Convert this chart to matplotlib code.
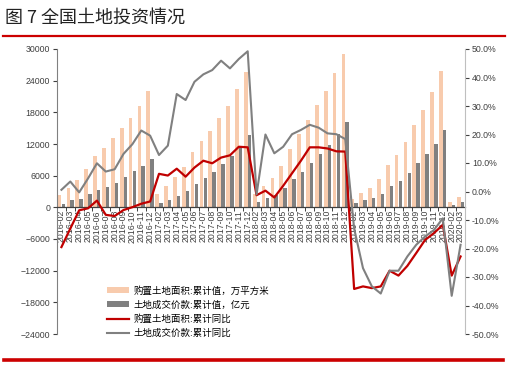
import numpy as np
import matplotlib.pyplot as plt
from matplotlib.lines import Line2D
from matplotlib.patches import Patch

plt.rcParams['font.family'] = ['Liberation Sans', 'Noto Sans CJK SC', 'DejaVu Sans']

# colours
AREA_BAR_COLOR = '#F8CBAD'
PRICE_BAR_COLOR = '#808080'
AREA_LINE_COLOR = '#C00000'
PRICE_LINE_COLOR = '#808080'
RULE_COLOR = '#CC0000'
TEXT_COLOR = '#404040'

# month labels (cumulative data, Jan-Feb combined)
months = [
    '2016-02', '2016-03', '2016-04', '2016-05', '2016-06', '2016-07', '2016-08',
    '2016-09', '2016-10', '2016-11', '2016-12',
    '2017-02', '2017-03', '2017-04', '2017-05', '2017-06', '2017-07', '2017-08',
    '2017-09', '2017-10', '2017-11', '2017-12',
    '2018-02', '2018-03', '2018-04', '2018-05', '2018-06', '2018-07', '2018-08',
    '2018-09', '2018-10', '2018-11', '2018-12',
    '2019-02', '2019-03', '2019-04', '2019-05', '2019-06', '2019-07', '2019-08',
    '2019-09', '2019-10', '2019-11', '2019-12',
    '2020-02', '2020-03',
]

# 购置土地面积:累计值 (万平方米)
area_cum = [
    2270, 3730, 5240, 7330, 9660, 11300, 13060, 14960, 16990, 19130, 22030,
    2500, 3980, 5750, 7710, 10480, 12500, 14400, 16860, 19130, 22360, 25550,
    2500, 4040, 5490, 7890, 11110, 13830, 16540, 19450, 22100, 25520, 29140,
    1600, 2650, 3730, 5300, 8080, 9850, 12370, 15540, 18510, 21920, 25860,
    1070, 2010,
]

# 土地成交价款:累计值 (亿元)
price_cum = [
    700, 1330, 1640, 2460, 3280, 3920, 4680, 5750, 6880, 7890, 9200,
    880, 1400, 2150, 3100, 4420, 5490, 6630, 8150, 9790, 11370, 13680,
    1000, 1770, 2340, 3600, 5430, 6690, 8330, 10040, 11870, 13830, 16160,
    830, 1330, 1770, 2460, 3980, 4930, 6440, 8330, 10040, 12060, 14710,
    510, 1080,
]

# 购置土地面积:累计同比 (%)
area_yoy = [
    -19.5, -13.0, -6.6, -5.9, -3.2, -8.2, -8.6, -6.5, -5.5, -4.3, -3.5,
    6.2, 5.6, 8.0, 5.2, 8.4, 10.8, 9.9, 11.9, 12.7, 15.7, 15.5,
    -1.3, 0.3, -2.1, 2.0, 6.4, 10.8, 15.5, 15.5, 15.1, 14.1, 14.0,
    -34.2, -33.3, -33.9, -33.3, -27.8, -29.5, -26.1, -21.6, -17.0, -14.6, -11.7,
    -29.5, -22.8,
]

# 土地成交价款:累计同比 (%)
price_yoy = [
    0.6, 3.5, -0.3, 4.6, 9.9, 7.0, 7.8, 13.2, 16.6, 21.4, 19.6,
    12.8, 16.1, 34.2, 32.1, 38.5, 41.1, 42.6, 45.9, 43.2, 46.5, 49.2,
    -1.0, 20.0, 13.4, 15.7, 20.1, 21.6, 23.4, 22.4, 20.4, 20.1, 18.4,
    -13.0, -26.9, -33.3, -35.8, -27.8, -27.8, -22.8, -18.7, -15.8, -13.5, -9.4,
    -36.6, -18.7,
]

left_ticks = list(range(-24000, 30001, 6000))
right_ticks = list(range(-50, 51, 10))

legend_labels = [
    '购置土地面积:累计值，万平方米',
    '土地成交价款:累计值，亿元',
    '购置土地面积:累计同比',
    '土地成交价款:累计同比',
]

fig = plt.figure(figsize=(5.07, 3.66), dpi=100)
ax = fig.add_axes([57 / 507, 32 / 366, 408 / 507, 285 / 366])

x = np.arange(len(months))
ax.bar(x - 0.21, area_cum, width=0.42, color=AREA_BAR_COLOR, zorder=2)
ax.bar(x + 0.21, price_cum, width=0.38, color=PRICE_BAR_COLOR, zorder=2)

ax.set_xlim(-0.5, len(months) - 0.5)
ax.set_ylim(-24000, 30000)
ax.set_yticks(left_ticks)
ax.tick_params(axis='y', labelsize=6.3, colors=TEXT_COLOR, length=3, width=0.8, pad=2)

ax.spines['top'].set_visible(False)
ax.spines['right'].set_visible(False)
ax.spines['left'].set_color('#808080')
ax.spines['bottom'].set_position(('data', 0))
ax.spines['bottom'].set_color('#404040')
ax.spines['bottom'].set_linewidth(0.9)

ax.set_xticks(x)
ax.set_xticklabels(months, rotation=90, fontsize=6.3, color=TEXT_COLOR)
ax.set_xticks(np.arange(-0.5, len(months), 1), minor=True)
ax.tick_params(axis='x', which='major', length=0, pad=2)
ax.tick_params(axis='x', which='minor', length=3, width=0.7, color='#404040')

# second axis for growth rates
ax2 = ax.twinx()
ax2.plot(x, area_yoy, color=AREA_LINE_COLOR, linewidth=1.6, zorder=3)
ax2.plot(x, price_yoy, color=PRICE_LINE_COLOR, linewidth=1.5, zorder=4)
ax2.set_ylim(-50, 50)
ax2.set_yticks(right_ticks)
ax2.set_yticklabels(['{:.1f}%'.format(v) for v in right_ticks])
ax2.tick_params(axis='y', labelsize=6.3, colors=TEXT_COLOR, length=3, width=0.8, pad=2)
for side in ['top', 'left', 'bottom']:
    ax2.spines[side].set_visible(False)
ax2.spines['right'].set_color('#BFBFBF')

# legend
handles = [
    Patch(facecolor=AREA_BAR_COLOR, edgecolor='none'),
    Patch(facecolor=PRICE_BAR_COLOR, edgecolor='none'),
    Line2D([], [], color=AREA_LINE_COLOR, linewidth=1.6),
    Line2D([], [], color=PRICE_LINE_COLOR, linewidth=1.5),
]
ax2.legend(handles, legend_labels, loc='upper left',
           bbox_to_anchor=(103 / 507, 1 - 282 / 366), bbox_transform=fig.transFigure,
           frameon=False, handlelength=2.4, handleheight=0.6,
           handletextpad=0.45, labelspacing=0.5, borderaxespad=0,
           prop={'family': ['Noto Sans CJK SC', 'DejaVu Sans'], 'size': 6.8})

# title and red rules
fig.text(5 / 507, 1 - 18 / 366, '图 7 全国土地投资情况', fontsize=13, va='center', ha='left',
         color='#222222', family=['Noto Sans CJK SC', 'DejaVu Sans'])
fig.add_artist(Line2D([3 / 507, 505 / 507], [1 - 36 / 366] * 2, color=RULE_COLOR, linewidth=1.6))
fig.add_artist(Line2D([4 / 507, 503 / 507], [1 - 360 / 366] * 2, color=RULE_COLOR, linewidth=2.6))

plt.savefig('out.png', dpi=100)
